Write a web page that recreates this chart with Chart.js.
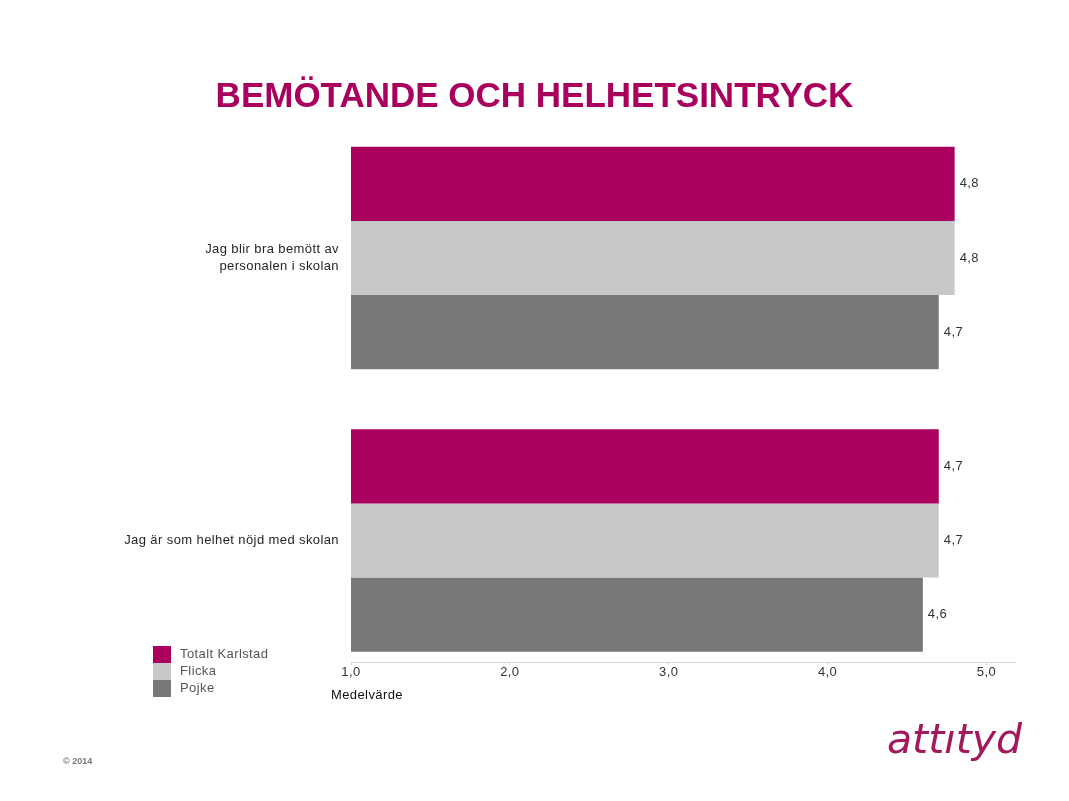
<!DOCTYPE html>
<html><head><meta charset="utf-8">
<script src="https://cdn.jsdelivr.net/npm/chart.js@4/dist/chart.umd.min.js"></script>
<style>
html,body{margin:0;padding:0;background:#fff;width:1069px;height:801px;overflow:hidden;font-family:"Liberation Sans",Arial,sans-serif;}
#wrap{position:absolute;left:0;top:0;width:1069px;height:801px;}
#title{position:absolute;left:0;width:1069px;top:75px;text-align:center;font-weight:bold;font-size:35px;color:#A8005C;letter-spacing:0px;white-space:nowrap;}
#logo{position:absolute;left:887px;top:715px;font-style:italic;font-size:41px;color:#A3195B;font-family:"DejaVu Sans","Liberation Sans",sans-serif;}
#copy{position:absolute;left:63px;top:756px;font-size:9px;font-weight:bold;color:#777;}
</style></head>
<body>
<div id="wrap"><canvas id="c" width="1069" height="801"></canvas></div>
<div id="title">BEMÖTANDE OCH HELHETSINTRYCK</div>
<div id="logo">attıtyd</div>
<div id="copy">© 2014</div>
<script>
const categories = [["Jag blir bra bemött av", "personalen i skolan"], ["Jag är som helhet nöjd med skolan"]];
const seriesNames = ["Totalt Karlstad", "Flicka", "Pojke"];
const totalt = [4.8, 4.7];
const flicka = [4.8, 4.7];
const pojke = [4.7, 4.6];
const xTicks = [1, 2, 3, 4, 5];
const colors = ["#AA005E", "#C8C8C8", "#787878"];

const seriesValues = [totalt, flicka, pojke];
const datasets = seriesValues.map((vals, i) => ({
  label: seriesNames[i],
  data: vals.map((v, j) => ({x: v, y: j})),
  backgroundColor: colors[i],
  borderWidth: 0,
  categoryPercentage: 0.787,
  barPercentage: 1.0
}));

const fmt = v => v.toFixed(1).replace('.', ',');
const SPACING = '0.4px';
const FONT = '13px "Liberation Sans", Arial, sans-serif';

const spacingPlugin = {
  id: 'spacing',
  beforeDraw(chart) { chart.ctx.letterSpacing = SPACING; }
};

const labelPlugin = {
  id: 'valueLabels',
  afterDatasetsDraw(chart) {
    const ctx = chart.ctx;
    ctx.save();
    ctx.letterSpacing = SPACING;
    ctx.font = FONT;
    ctx.fillStyle = '#333';
    ctx.textAlign = 'left';
    ctx.textBaseline = 'middle';
    chart.data.datasets.forEach((ds, di) => {
      chart.getDatasetMeta(di).data.forEach((el, j) => {
        ctx.fillText(fmt(ds.data[j].x), el.x + 5, el.y);
      });
    });
    ctx.restore();
  }
};

const extraPlugin = {
  id: 'extras',
  afterDraw(chart) {
    const ctx = chart.ctx;
    ctx.save();
    ctx.letterSpacing = SPACING;
    ctx.font = FONT;
    ctx.fillStyle = '#111';
    ctx.textAlign = 'left';
    ctx.textBaseline = 'middle';
    ctx.fillText('Medelvärde', 331, 695);
    const lx = 153, ly = 646, h = 17;
    chart.data.datasets.forEach((ds, i) => {
      ctx.fillStyle = ds.backgroundColor;
      ctx.fillRect(lx, ly + i * h, 18, h);
      ctx.fillStyle = '#555';
      ctx.fillText(ds.label, 180, ly + i * h + 8);
    });
    ctx.restore();
  }
};

new Chart(document.getElementById('c'), {
  type: 'bar',
  data: { datasets },
  options: {
    indexAxis: 'y',
    responsive: false,
    animation: false,
    layout: { padding: { left: 0, right: 54, top: 145, bottom: 109 } },
    plugins: { legend: { display: false }, tooltip: { enabled: false }, title: { display: false } },
    scales: {
      x: {
        type: 'linear',
        min: 1, max: 5.18,
        afterBuildTicks: (axis) => { axis.ticks = xTicks.map(v => ({ value: v })); },
        afterFit: (scale) => { scale.height = 30; },
        border: { display: true, color: '#D4D4D4', width: 1 },
        grid: { drawOnChartArea: false, drawTicks: true, tickLength: 3, color: '#D4D4D4' },
        ticks: {
          callback: (v) => fmt(v),
          color: '#333',
          font: { family: '"Liberation Sans", Arial, sans-serif', size: 13 },
          padding: 0,
          maxRotation: 0
        }
      },
      y: {
        type: 'linear',
        reverse: true,
        offset: false,
        min: -0.4, max: 1.43,
        afterBuildTicks: (axis) => { axis.ticks = categories.map((c, i) => ({ value: i })); },
        afterFit: (scale) => { scale.width = 351; },
        border: { display: false },
        grid: { display: false },
        ticks: {
          callback: (v) => categories[v],
          color: '#262626',
          font: { family: '"Liberation Sans", Arial, sans-serif', size: 13, lineHeight: 1.25 },
          padding: 4,
          crossAlign: 'near'
        }
      }
    }
  },
  plugins: [spacingPlugin, labelPlugin, extraPlugin]
});
</script>
</body></html>
